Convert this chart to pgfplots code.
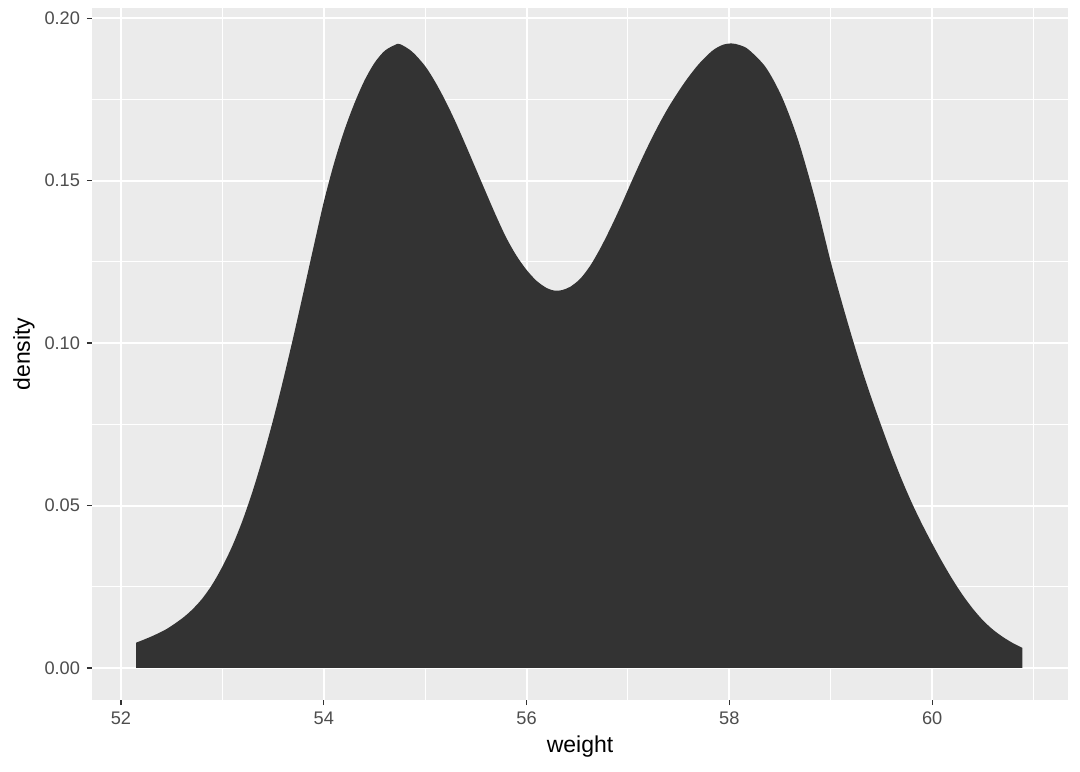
\documentclass[border=0pt]{standalone}
\usepackage{pgfplots}
\pgfplotsset{compat=1.18}
\usepackage{fontspec}
\setmainfont{Liberation Sans}
\definecolor{panelbg}{HTML}{EBEBEB}
\definecolor{fillc}{HTML}{333333}
\definecolor{ticklab}{HTML}{4D4D4D}
\begin{document}
\begin{tikzpicture}
\fill[white] (-46pt,-35.5pt) rectangle (494pt,350pt);
\begin{axis}[name=ax, at={(0,0)}, anchor=south west,
  scale only axis, width=488pt, height=346pt,
  xmin=51.714, xmax=61.34, ymin=-0.00985, ymax=0.2031,
  axis background/.style={fill=panelbg},
  axis line style={draw=none},
  xtick={52,54,56,58,60}, ytick={0,0.05,0.1,0.15,0.2},
  minor xtick={53,55,57,59,61}, minor ytick={0.025,0.075,0.125,0.175},
  grid=both,
  major grid style={white, line width=1pt},
  minor grid style={white, line width=0.5pt},
  tick align=outside, tick pos=left,
  major tick length=2.5pt, minor tick length=0pt,
  every tick/.style={fillc, line width=0.55pt},
  every tick label/.append style={font=\fontsize{9.1}{10}\selectfont, text=ticklab},
  yticklabel style={/pgf/number format/.cd, fixed, fixed zerofill, precision=2},
  xticklabel style={/pgf/number format/.cd, fixed, precision=0},
  /pgf/number format/assume math mode=true,
  xlabel={weight}, ylabel={density},
  label style={font=\fontsize{11.5}{13}\selectfont, text=black},
  xlabel style={at={(axis description cs:0.5,-0.0679)}, anchor=center},
  ylabel style={at={(axis description cs:-0.0697,0.5)}, anchor=center},
]
\addplot[fill=fillc, draw=none, smooth, tension=0.5] coordinates {
(52.15,0.0078) (52.30,0.0097) (52.45,0.0120) (52.60,0.0152) (52.70,0.0179)
(52.80,0.0213) (52.90,0.0257) (53.00,0.0312) (53.10,0.0377) (53.20,0.0455)
(53.30,0.0546) (53.40,0.0649) (53.50,0.0763) (53.60,0.0887) (53.70,0.1019)
(53.80,0.1157) (53.90,0.1297) (54.00,0.1434) (54.10,0.1552) (54.20,0.1652)
(54.30,0.1736) (54.40,0.1807) (54.50,0.1862) (54.60,0.1899) (54.70,0.1917)
(54.75,0.1920) (54.87,0.1897) (55.00,0.1852) (55.10,0.1803) (55.20,0.1745)
(55.30,0.1680) (55.40,0.1609) (55.50,0.1536) (55.60,0.1463) (55.70,0.1391)
(55.80,0.1324) (55.90,0.1269) (56.00,0.1225) (56.10,0.1191) (56.20,0.1169)
(56.28,0.1161) (56.35,0.1163) (56.43,0.1173) (56.53,0.1198) (56.63,0.1239)
(56.73,0.1293) (56.83,0.1355) (56.93,0.1422) (57.03,0.1493) (57.13,0.1562)
(57.23,0.1627) (57.33,0.1687) (57.43,0.1741) (57.57,0.1807) (57.70,0.1859)
(57.83,0.1899) (57.93,0.1917) (58.02,0.1922) (58.10,0.1917) (58.19,0.1903)
(58.36,0.1848) (58.52,0.1756) (58.68,0.1623) (58.85,0.1438) (59.00,0.1250)
(59.10,0.1136) (59.20,0.1028) (59.30,0.0926) (59.40,0.0832) (59.50,0.0744)
(59.60,0.0659) (59.70,0.0580) (59.80,0.0508) (59.90,0.0443) (60.00,0.0383)
(60.10,0.0326) (60.20,0.0273) (60.30,0.0225) (60.40,0.0183) (60.50,0.0147)
(60.60,0.0118) (60.70,0.0095) (60.80,0.0076) (60.89,0.0062)
} \closedcycle;
\end{axis}
\pgfresetboundingbox
\path[use as bounding box] (-46pt,-35.5pt) rectangle (494pt,350pt);
\end{tikzpicture}
\end{document}
